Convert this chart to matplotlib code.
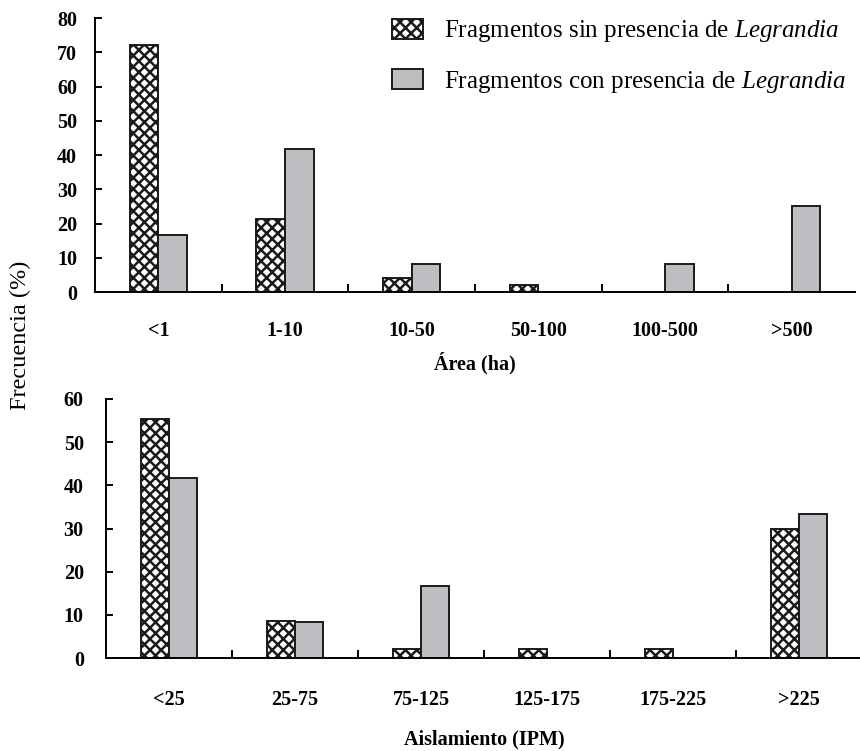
import matplotlib
matplotlib.use("Agg")
import matplotlib.pyplot as plt
import numpy as np

plt.rcParams['font.family'] = ['Liberation Serif', 'DejaVu Serif']
plt.rcParams['mathtext.fontset'] = 'custom'
plt.rcParams['mathtext.rm'] = 'Liberation Serif'
plt.rcParams['mathtext.it'] = 'Liberation Serif:italic'
plt.rcParams['hatch.linewidth'] = 1.8

# Frequency (%) of fragments by area class
area_classes = ['<1', '1-10', '10-50', '50-100', '100-500', '>500']
area_sin = [72.2, 21.3, 4.1, 2.0, 0.0, 0.0]
area_con = [16.7, 41.7, 8.3, 0.0, 8.3, 25.0]

# Frequency (%) of fragments by isolation class (IPM)
aisl_classes = ['<25', '25-75', '75-125', '125-175', '175-225', '>225']
aisl_sin = [55.3, 8.5, 2.1, 2.1, 2.1, 29.8]
aisl_con = [41.7, 8.3, 16.7, 0.0, 0.0, 33.3]

legend_labels = ['Fragmentos sin presencia de $\\mathit{Legrandia}$',
                 'Fragmentos con presencia de $\\mathit{Legrandia}$']

GRAY = '#bdbec1'
EDGE = '#1a1a1a'
W = 0.225
FS = 14.5

fig = plt.figure(figsize=(8.6, 7.51), dpi=100)
ax1 = fig.add_axes([95 / 860, 1 - 292 / 751, 760 / 860, 274 / 751])
ax2 = fig.add_axes([106 / 860, 1 - 658 / 751, 756 / 860, 259 / 751])


def draw(ax, cats, sin, con, ymax, xlabel, xpad, ypad, lpad):
    x = np.arange(len(cats))
    b1 = ax.bar(x - W / 2, sin, W, facecolor='white', edgecolor=EDGE,
                hatch='xxx', linewidth=1.4)
    b2 = ax.bar(x + W / 2, con, W, facecolor=GRAY, edgecolor=EDGE,
                linewidth=1.4)
    # empty classes leave no visible mark on the baseline
    for bars, vals in ((b1, sin), (b2, con)):
        for p, v in zip(bars, vals):
            if v == 0:
                p.set_visible(False)
    ax.set_xlim(-0.5, len(cats) - 0.5)
    ax.set_ylim(0, ymax)
    ax.set_yticks(np.arange(0, ymax + 1, 10))
    ax.set_xticks(x)
    ax.set_xticklabels(cats, fontweight='bold', fontsize=FS)
    ax.set_xticks(x[:-1] + 0.5, minor=True)
    ax.tick_params(axis='x', which='major', length=0, pad=xpad)
    ax.tick_params(axis='x', which='minor', direction='in', length=6, width=1.4)
    ax.tick_params(axis='y', direction='in', length=5, width=1.4, pad=ypad,
                   labelsize=FS)
    for t in ax.get_yticklabels():
        t.set_fontweight('bold')
    ax.spines['top'].set_visible(False)
    ax.spines['right'].set_visible(False)
    ax.spines['left'].set_linewidth(1.4)
    ax.spines['bottom'].set_linewidth(1.4)
    ax.set_xlabel(xlabel, fontweight='bold', fontsize=FS, labelpad=lpad)
    return b1, b2


b1, b2 = draw(ax1, area_classes, area_sin, area_con, 80, 'Área (ha)', 21, 13, 8)
draw(ax2, aisl_classes, aisl_sin, aisl_con, 60, 'Aislamiento (IPM)', 23, 16, 14)

fig.legend([b1, b2], legend_labels, loc='upper left',
           bbox_to_anchor=(379 / 860, 1 - 6 / 751), frameon=False,
           fontsize=18, handlelength=1.24, handleheight=0.88,
           labelspacing=0.97, handletextpad=0.88, borderpad=0)

fig.text(20 / 860, 1 - 335 / 751, 'Frecuencia (%)', rotation=90,
         ha='center', va='center', fontsize=17.5)

fig.savefig('out.png', dpi=100)
